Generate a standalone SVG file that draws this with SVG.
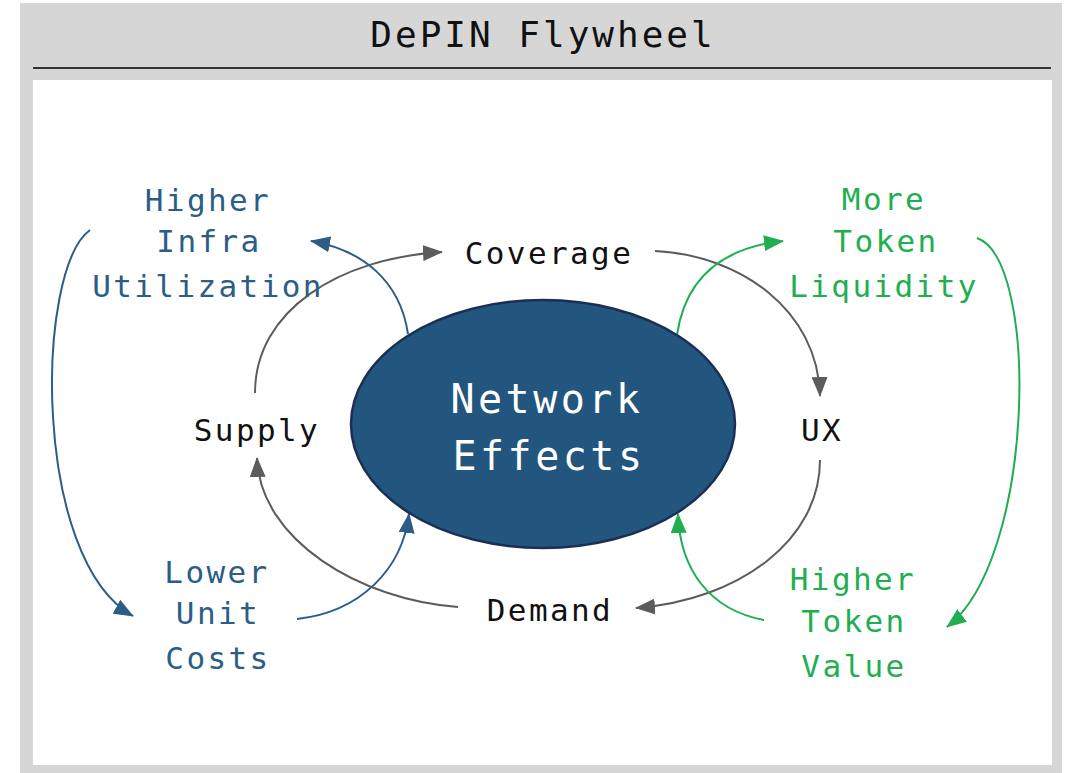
<svg xmlns="http://www.w3.org/2000/svg" width="1071" height="773" viewBox="0 0 1071 773">
<defs>
<style>
.lbl{font-family:"DejaVu Sans Mono","Liberation Mono",monospace;font-size:31px;letter-spacing:2.4px;text-anchor:middle}
.blk{fill:#111}
.blu{fill:#2b5d86}
.grn{fill:#1fae50}
.gray{fill:none;stroke:#5c5c5c;stroke-width:2}
.bl{fill:none;stroke:#2b5d86;stroke-width:2}
.gr{fill:none;stroke:#1fae50;stroke-width:2}
</style>
<marker id="ag" markerUnits="userSpaceOnUse" markerWidth="20" markerHeight="16" refX="19" refY="8" orient="auto"><path d="M0,0 L20,8 L0,16 z" fill="#5c5c5c"/></marker>
<marker id="ab" markerUnits="userSpaceOnUse" markerWidth="20" markerHeight="16" refX="19" refY="8" orient="auto"><path d="M0,0 L20,8 L0,16 z" fill="#2b5d86"/></marker>
<marker id="an" markerUnits="userSpaceOnUse" markerWidth="20" markerHeight="16" refX="19" refY="8" orient="auto"><path d="M0,0 L20,8 L0,16 z" fill="#1fae50"/></marker>
</defs>
<rect x="0" y="0" width="1071" height="773" fill="#ffffff"/>
<rect x="20" y="3" width="1042" height="770" fill="#d6d6d6"/>
<rect x="33" y="80" width="1019" height="685" fill="#ffffff"/>
<line x1="33" y1="68" x2="1051" y2="68" stroke="#333" stroke-width="2"/>
<text x="543" y="47" style="font-family:'DejaVu Sans Mono','Liberation Mono',monospace;font-size:36px;letter-spacing:3px;text-anchor:middle" fill="#111">DePIN Flywheel</text>

<g id="connectors">
<path class="gray" d="M255,393 C255,310 340,258 442,252" marker-end="url(#ag)"/>
<path class="gray" d="M655,251 C740,255 818,310 820,396" marker-end="url(#ag)"/>
<path class="gray" d="M820,460 C820,540 740,600 636,608" marker-end="url(#ag)"/>
<path class="gray" d="M458,607 C360,600 260,540 257,458" marker-end="url(#ag)"/>
<path class="bl" d="M408,334 C400,280 362,250 311,241" marker-end="url(#ab)"/>
<path class="bl" d="M90,230 C35,270 32,560 133,616" marker-end="url(#ab)"/>
<path class="bl" d="M297,619 C360,612 402,570 409,514" marker-end="url(#ab)"/>
<path class="gr" d="M677,335 C685,280 720,248 783,241" marker-end="url(#an)"/>
<path class="gr" d="M977,238 C1040,260 1035,560 947,627" marker-end="url(#an)"/>
<path class="gr" d="M764,620 C710,610 680,570 678,514" marker-end="url(#an)"/>
</g>

<g id="network-effects">
<ellipse cx="543" cy="424" rx="192" ry="124" fill="#23567f" stroke="#1b2f55" stroke-width="2.5"/>
<text x="547" y="413" style="font-family:'DejaVu Sans Mono','Liberation Mono',monospace;font-size:40px;letter-spacing:3.5px;text-anchor:middle" fill="#ffffff">Network</text>
<text x="549" y="470" style="font-family:'DejaVu Sans Mono','Liberation Mono',monospace;font-size:40px;letter-spacing:3.5px;text-anchor:middle" fill="#ffffff">Effects</text>
</g>
<g id="coverage"><text class="lbl blk" x="549" y="264">Coverage</text></g>
<g id="supply"><text class="lbl blk" x="257" y="441">Supply</text></g>
<g id="ux"><text class="lbl blk" x="822" y="441">UX</text></g>
<g id="demand"><text class="lbl blk" x="550" y="621">Demand</text></g>
<g id="higher-infra-utilization">
<text class="lbl blu" x="208" y="211">Higher</text>
<text class="lbl blu" x="209" y="252">Infra</text>
<text class="lbl blu" x="208" y="297">Utilization</text>
</g>
<g id="lower-unit-costs">
<text class="lbl blu" x="217" y="583">Lower</text>
<text class="lbl blu" x="218" y="624">Unit</text>
<text class="lbl blu" x="218" y="669">Costs</text>
</g>
<g id="more-token-liquidity">
<text class="lbl grn" x="884" y="210">More</text>
<text class="lbl grn" x="886" y="252">Token</text>
<text class="lbl grn" x="884" y="297">Liquidity</text>
</g>
<g id="higher-token-value">
<text class="lbl grn" x="853" y="590">Higher</text>
<text class="lbl grn" x="854" y="632">Token</text>
<text class="lbl grn" x="854" y="677">Value</text>
</g>
</svg>
